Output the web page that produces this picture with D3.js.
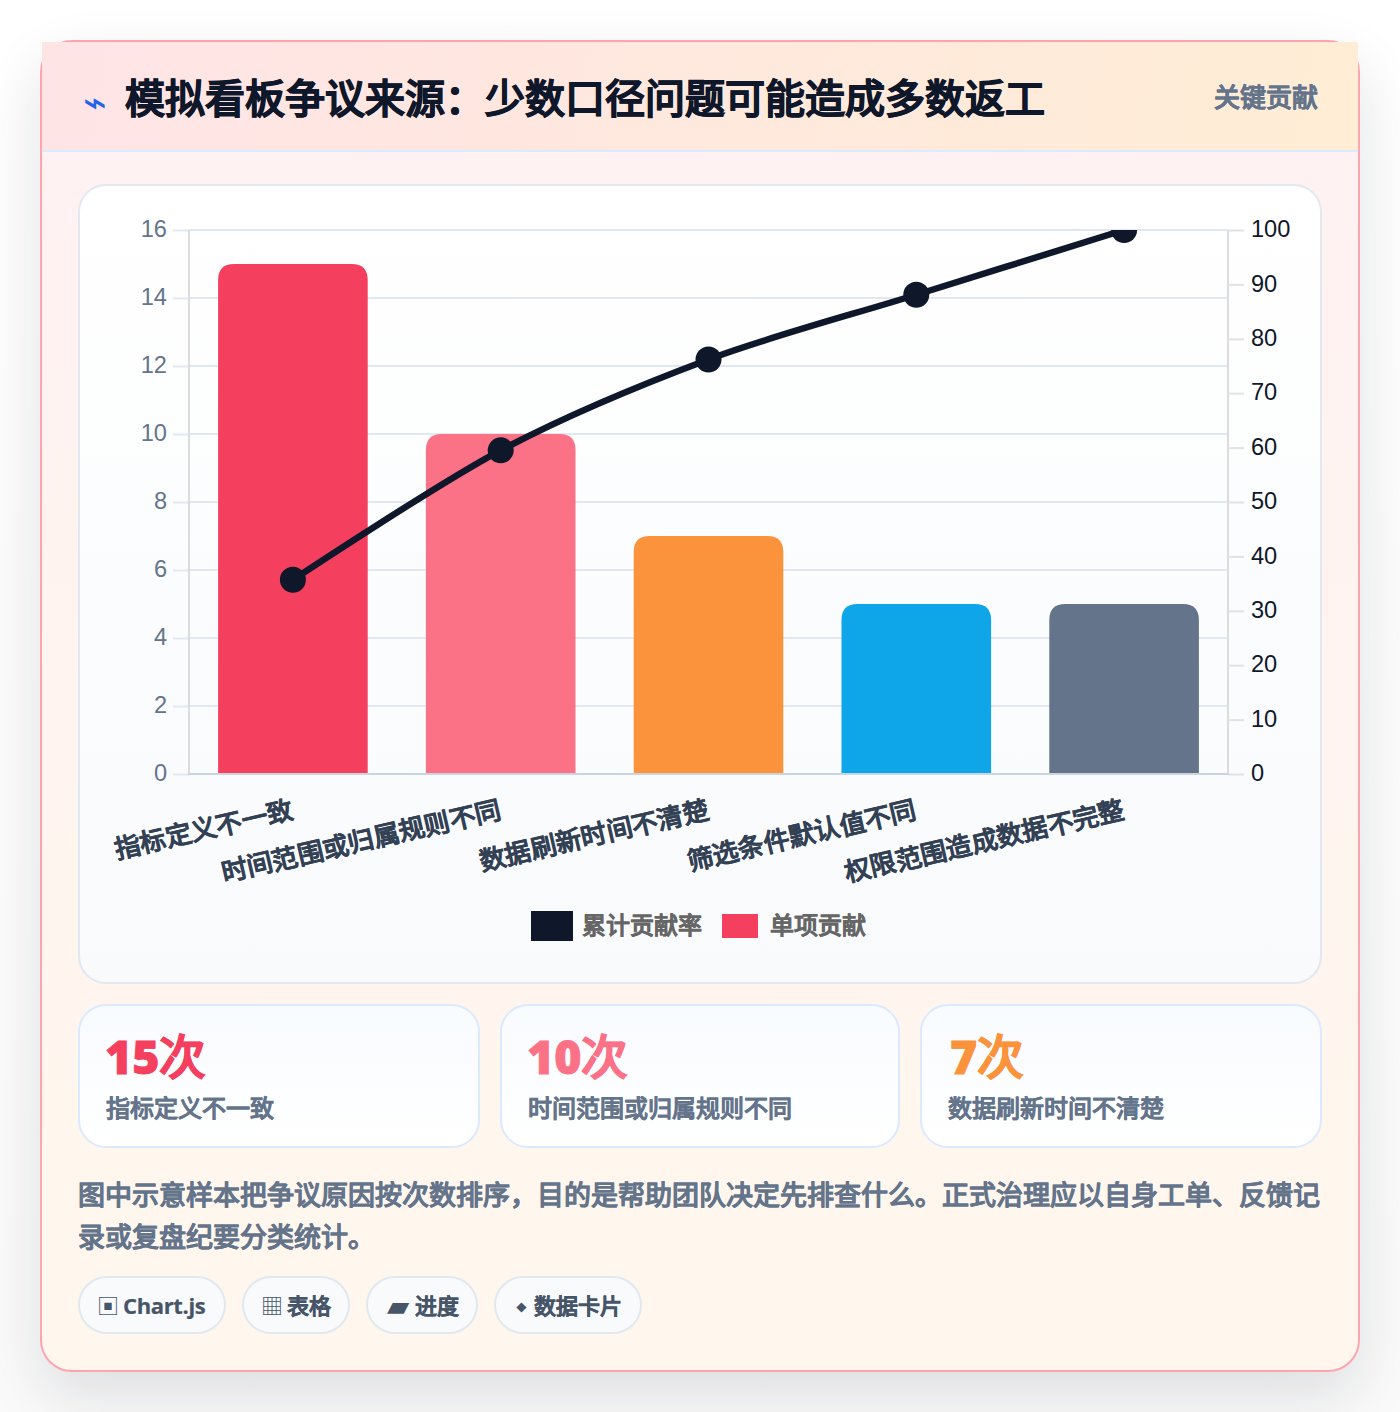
<!DOCTYPE html>
<html lang="zh"><head><meta charset="utf-8">
<script src="https://cdn.jsdelivr.net/npm/d3@7/dist/d3.min.js"></script>
<style>
@font-face{font-family:"CJKSynth";src:local("Noto Sans CJK SC"),local("Noto Sans CJK SC Regular"),local("NotoSansCJKsc-Regular");font-weight:400;}
html,body{margin:0;padding:0;width:1400px;height:1412px;overflow:hidden;background:#fff;font-family:"Open Sans","CJKSynth","Noto Sans CJK SC",sans-serif;}
body{background:linear-gradient(180deg,#ffffff,#fafafa);}
.card{position:absolute;left:40px;top:40px;width:1320px;height:1332px;box-sizing:border-box;border:2px solid #fda4af;border-radius:32px;background:linear-gradient(180deg,#fff1f2,#fff7ed);box-shadow:0 24px 60px rgba(15,23,42,.12);}
.head{position:absolute;left:42px;top:42px;width:1316px;height:110px;box-sizing:border-box;border-bottom:2px solid #dbeafe;background:linear-gradient(100deg,#ffe4e6,#ffedd5);}
.title{position:absolute;left:125px;top:69px;font-size:40px;line-height:58px;font-weight:800;color:#0f172a;white-space:nowrap;-webkit-text-stroke:.7px #0f172a;}
.bolt{position:absolute;left:83px;top:74px;font-size:40px;line-height:56px;color:#2563eb;font-family:"DejaVu Sans";}
.tag{position:absolute;right:82px;top:78px;font-size:26px;line-height:38px;font-weight:700;color:#64748b;-webkit-text-stroke:.15px #64748b;}
.panel{position:absolute;left:78px;top:184px;width:1244px;height:800px;box-sizing:border-box;border:2px solid #e2e8f0;border-radius:28px;background:linear-gradient(180deg,#fff,#f8fafc);}
svg{position:absolute;left:0;top:0;}
.stat{position:absolute;top:1004px;height:144px;box-sizing:border-box;border:2px solid #dbeafe;border-radius:28px;background:linear-gradient(180deg,#f8fbff,#fff);}
.stat b{position:absolute;top:15px;font-size:46.5px;line-height:70px;font-weight:800;white-space:nowrap;-webkit-text-stroke:.8px currentColor;}
.stat span{position:absolute;left:26px;top:84px;font-size:24px;line-height:36px;font-weight:700;color:#64748b;white-space:nowrap;-webkit-text-stroke:.15px #64748b;}
.note{position:absolute;left:78px;top:1174px;width:1244px;font-size:27px;line-height:42px;font-weight:700;color:#64748b;-webkit-text-stroke:.15px #64748b;}
.pill{position:absolute;top:1276px;height:58px;box-sizing:border-box;border:2px solid #e2e8f0;border-radius:29px;background:#f8fafc;color:#475569;white-space:nowrap;}
.pill i{position:absolute;top:0;line-height:54px;font-style:normal;font-weight:400;}
.pill em{position:absolute;top:0;font-style:normal;font-size:22px;line-height:54px;font-weight:700;-webkit-text-stroke:.2px #475569;}
</style></head><body>
<div class="card"></div><div class="head"></div>
<div class="bolt">⌁</div>
<div class="title">模拟看板争议来源：少数口径问题可能造成多数返工</div>
<div class="tag">关键贡献</div>
<div class="panel"></div>
<svg id="chart" width="1400" height="1412"></svg>
<div id="stats"></div>
<div class="note">图中示意样本把争议原因按次数排序，目的是帮助团队决定先排查什么。正式治理应以自身工单、反馈记录或复盘纪要分类统计。</div>
<div id="pills"></div>
<script>
const categories=["指标定义不一致","时间范围或归属规则不同","数据刷新时间不清楚","筛选条件默认值不同","权限范围造成数据不完整"];
const counts=[15,10,7,5,5];
const cumulative=[35.7,59.5,76.2,88.1,100];
const barColors=["#f43f5e","#fb7185","#fb923c","#0ea5e9","#64748b"];
const leftTicks=[0,2,4,6,8,10,12,14,16];
const rightTicks=[0,10,20,30,40,50,60,70,80,90,100];
const legendLabels=["累计贡献率","单项贡献"];
const statValues=["15次","10次","7次"];
const statLabels=["指标定义不一致","时间范围或归属规则不同","数据刷新时间不清楚"];
const statColors=["#f43f5e","#fb7185","#fb923c"];
const pillIcons=["▣","▦","▰","⬩"];
const pillLabels=["Chart.js","表格","进度","数据卡片"];

const L=189,R=1228,T=230,B=774;
const x=d3.scaleBand().domain(categories).range([L,R]).paddingInner(0.28).paddingOuter(0.14);
const yL=d3.scaleLinear().domain([0,16]).range([B,T]);
const yR=d3.scaleLinear().domain([0,100]).range([B,T]);
const svg=d3.select("#chart");
const sans='"Liberation Sans",Arial,sans-serif';
const cjk='"Liberation Sans","CJKSynth","Noto Sans CJK SC",sans-serif';
svg.append("defs").append("clipPath").attr("id","plot").append("rect").attr("x",L).attr("y",T).attr("width",R-L).attr("height",B-T);

// grid + left axis
const gL=svg.append("g").attr("transform",`translate(${L},0)`).call(d3.axisLeft(yL).tickValues(leftTicks).tickSize(16).tickPadding(6));
gL.select(".domain").remove();
gL.selectAll("line").attr("stroke","#e2e8f0").attr("stroke-width",2);
gL.selectAll("text").attr("font-family",sans).attr("font-size",23.6).attr("fill","#64748b").attr("dy","0.28em");
svg.append("g").selectAll("line").data(leftTicks).join("line").attr("x1",L).attr("x2",R).attr("y1",d=>yL(d)).attr("y2",d=>yL(d)).attr("stroke","#e2e8f0").attr("stroke-width",2);
svg.append("line").attr("x1",L).attr("x2",L).attr("y1",T).attr("y2",B).attr("stroke","#dcdcdc").attr("stroke-width",2);
svg.append("line").attr("x1",R).attr("x2",R).attr("y1",T).attr("y2",B).attr("stroke","#dcdcdc").attr("stroke-width",2);

// right axis
const gR=svg.append("g").attr("transform",`translate(${R},0)`).call(d3.axisRight(yR).tickValues(rightTicks).tickSize(16).tickPadding(7));
gR.select(".domain").remove();
gR.selectAll("line").attr("stroke","#e2e2e2").attr("stroke-width",2);
gR.selectAll("text").attr("font-family",sans).attr("font-size",23.6).attr("fill","#0f172a").attr("dy","0.28em");

// bars
const rad=16;
svg.append("g").selectAll("path").data(categories).join("path")
 .attr("fill",(d,i)=>barColors[i])
 .attr("d",(d,i)=>{const p=d3.path(),a=x(d),w=x.bandwidth(),t=yL(counts[i]);
   p.moveTo(a,B);p.lineTo(a,t+rad);p.quadraticCurveTo(a,t,a+rad,t);p.lineTo(a+w-rad,t);p.quadraticCurveTo(a+w,t,a+w,t+rad);p.lineTo(a+w,B);p.closePath();return p.toString();});
svg.append("line").attr("x1",L-1).attr("x2",R+1).attr("y1",B).attr("y2",B).attr("stroke","#cbd5e1").attr("stroke-width",2);

// line
const cx=d=>x(d)+x.bandwidth()/2;
const gLine=svg.append("g").attr("clip-path","url(#plot)");
gLine.append("path").attr("fill","none").attr("stroke","#0f172a").attr("stroke-width",6.5)
 .attr("d",d3.line().x(d=>cx(d)).y((d,i)=>yR(cumulative[i])).curve(d3.curveCardinal.tension(0.1))(categories));
gLine.selectAll("circle").data(categories).join("circle").attr("cx",cx).attr("cy",(d,i)=>yR(cumulative[i])).attr("r",13).attr("fill","#0f172a");

// x labels
svg.append("g").selectAll("text").data(categories).join("text")
 .attr("text-anchor","end").attr("font-family",cjk).attr("font-size",26).attr("font-weight",700).attr("fill","#334155")
 .attr("stroke","#334155").attr("stroke-width",.15)
 .attr("transform",d=>`translate(${cx(d)+1.5},${818}) rotate(-13)`).text(d=>d);

// legend
const lg=svg.append("g").attr("font-family",cjk).attr("font-size",24).attr("font-weight",700);
lg.append("rect").attr("x",531).attr("y",911).attr("width",42).attr("height",30).attr("fill","#0f172a");
lg.append("text").attr("x",582).attr("y",934).attr("fill","#666").attr("stroke","#666").attr("stroke-width",.12).text(legendLabels[0]);
lg.append("rect").attr("x",722).attr("y",914).attr("width",36).attr("height",24).attr("fill","#f43f5e");
lg.append("text").attr("x",770).attr("y",934).attr("fill","#666").attr("stroke","#666").attr("stroke-width",.12).text(legendLabels[1]);

// stats
const statBox=[[78,402,25],[500,400,25],[920,402,28]];
d3.select("#stats").selectAll("div").data(statValues).join("div").attr("class","stat")
 .style("left",(d,i)=>statBox[i][0]+"px").style("width",(d,i)=>statBox[i][1]+"px")
 .html((d,i)=>`<b style="left:${statBox[i][2]}px;color:${statColors[i]}">${d}</b><span>${statLabels[i]}</span>`);

// pills
const pillBox=[[78,148,17,43,22],[242,108,17,43,22],[366,112,19,47,29],[494,148,20,38,30]];
d3.select("#pills").selectAll("div").data(pillLabels).join("div").attr("class","pill")
 .style("left",(d,i)=>pillBox[i][0]+"px").style("width",(d,i)=>pillBox[i][1]+"px")
 .html((d,i)=>`<i style="left:${pillBox[i][2]}px;font-size:${pillBox[i][4]}px">${pillIcons[i]}</i><em style="left:${pillBox[i][3]}px;${i===0?'letter-spacing:-.35px':''}">${d}</em>`);
</script></body></html>
